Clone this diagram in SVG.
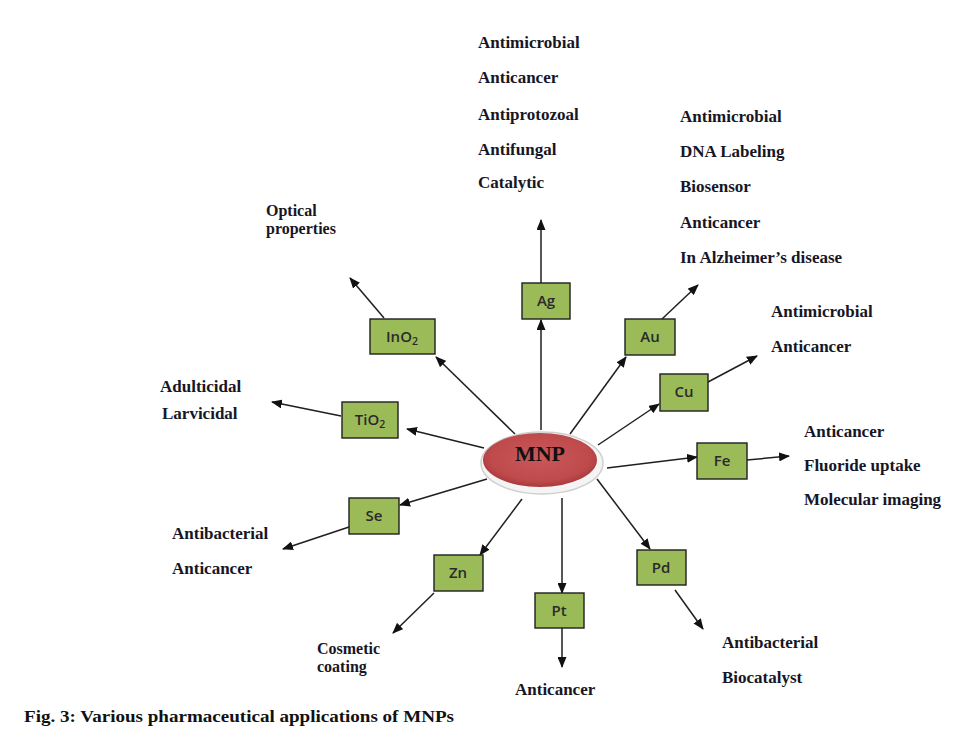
<svg xmlns="http://www.w3.org/2000/svg" width="959" height="741" viewBox="0 0 959 741">
<style>
.t{font-family:"Liberation Serif","Times New Roman",serif;font-weight:bold;font-size:17px;fill:#161626}
.t2{font-family:"Liberation Serif","Times New Roman",serif;font-weight:bold;font-size:16px;fill:#161626}
.box{fill:#9BBB59;stroke:#1f1f1f;stroke-width:1.4}
.bl{font-family:"Open Sans","Liberation Sans",sans-serif;font-weight:600;font-size:15px;fill:#2a2a2a;text-anchor:middle}
.c{stroke:#1f1f1f;stroke-width:1.5;fill:none;marker-end:url(#ah)}
</style>
<defs>
<marker id="ah" markerUnits="userSpaceOnUse" markerWidth="11" markerHeight="9" refX="10" refY="4.5" orient="auto">
<path d="M0,0 L11,4.5 L0,9 z" fill="#111"/>
</marker>
<radialGradient id="rg" cx="50%" cy="45%" r="55%">
<stop offset="0" stop-color="#C9585A"/>
<stop offset="0.8" stop-color="#BF4A4C"/>
<stop offset="1" stop-color="#A83A3C"/>
</radialGradient>
</defs>
<rect width="959" height="741" fill="#ffffff"/>
<g id="connectors">
<line class="c" x1="541" y1="430" x2="541" y2="320"/>
<line class="c" x1="541" y1="283" x2="541" y2="220"/>
<line class="c" x1="570" y1="434" x2="626" y2="357"/>
<line class="c" x1="662" y1="319" x2="698" y2="285"/>
<line class="c" x1="598" y1="445" x2="659" y2="404"/>
<line class="c" x1="708" y1="382" x2="757" y2="356"/>
<line class="c" x1="607" y1="468" x2="697" y2="457"/>
<line class="c" x1="747" y1="460" x2="789" y2="456"/>
<line class="c" x1="597" y1="479" x2="650" y2="549"/>
<line class="c" x1="675" y1="590" x2="703" y2="629"/>
<line class="c" x1="562" y1="498" x2="562" y2="593"/>
<line class="c" x1="562" y1="628" x2="562" y2="667"/>
<line class="c" x1="522" y1="499" x2="480" y2="555"/>
<line class="c" x1="434" y1="593" x2="393" y2="633"/>
<line class="c" x1="487" y1="479" x2="400" y2="505"/>
<line class="c" x1="349" y1="527" x2="283" y2="549"/>
<line class="c" x1="484" y1="448" x2="407" y2="429"/>
<line class="c" x1="341" y1="416" x2="272" y2="402"/>
<line class="c" x1="515" y1="434" x2="436" y2="357"/>
<line class="c" x1="384" y1="318" x2="350" y2="278"/>
</g>
<g id="MNP">
<ellipse cx="542" cy="463" rx="61" ry="31" fill="#f4f4f4" stroke="#cfcfcf" stroke-width="1.5"/>
<ellipse cx="540" cy="460" rx="57" ry="27" fill="url(#rg)"/>
<text x="540" y="461" text-anchor="middle" font-family="Liberation Serif,Times New Roman,serif" font-weight="bold" font-size="22" fill="#111">MNP</text>
</g>
<g id="Ag"><rect class="box" x="522" y="283" width="48" height="36"/><text class="bl" x="546" y="306">Ag</text></g>
<g id="Au"><rect class="box" x="625" y="319" width="50" height="36"/><text class="bl" x="650" y="342">Au</text></g>
<g id="Cu"><rect class="box" x="660" y="374" width="48" height="37"/><text class="bl" x="684" y="397">Cu</text></g>
<g id="Fe"><rect class="box" x="697" y="443" width="50" height="36"/><text class="bl" x="722" y="466">Fe</text></g>
<g id="Pd"><rect class="box" x="637" y="550" width="49" height="35"/><text class="bl" x="661" y="573">Pd</text></g>
<g id="Pt"><rect class="box" x="535" y="593" width="49" height="35"/><text class="bl" x="559" y="616">Pt</text></g>
<g id="Zn"><rect class="box" x="434" y="555" width="49" height="36"/><text class="bl" x="458" y="578">Zn</text></g>
<g id="Se"><rect class="box" x="349" y="498" width="50" height="36"/><text class="bl" x="374" y="521">Se</text></g>
<g id="TiO2"><rect class="box" x="342" y="402" width="56" height="36"/><text class="bl" x="370" y="425">TiO<tspan font-size="10.5" dy="3">2</tspan></text></g>
<g id="InO2"><rect class="box" x="370" y="319" width="65" height="35"/><text class="bl" x="402" y="342">InO<tspan font-size="10.5" dy="3">2</tspan></text></g>
<g id="labels">
<text class="t" x="478" y="48">Antimicrobial</text>
<text class="t" x="478" y="83">Anticancer</text>
<text class="t" x="478" y="120">Antiprotozoal</text>
<text class="t" x="478" y="155">Antifungal</text>
<text class="t" x="478" y="188">Catalytic</text>
<text class="t" x="680" y="122">Antimicrobial</text>
<text class="t" x="680" y="157">DNA Labeling</text>
<text class="t" x="680" y="192">Biosensor</text>
<text class="t" x="680" y="228">Anticancer</text>
<text class="t" x="680" y="263">In Alzheimer’s disease</text>
<text class="t" x="771" y="317">Antimicrobial</text>
<text class="t" x="771" y="352">Anticancer</text>
<text class="t" x="804" y="437">Anticancer</text>
<text class="t" x="804" y="471">Fluoride uptake</text>
<text class="t" x="804" y="505">Molecular imaging</text>
<text class="t" x="722" y="648">Antibacterial</text>
<text class="t" x="722" y="683">Biocatalyst</text>
<text class="t" x="515" y="695">Anticancer</text>
<text class="t2" x="317" y="654">Cosmetic</text>
<text class="t2" x="317" y="672">coating</text>
<text class="t" x="172" y="539">Antibacterial</text>
<text class="t" x="172" y="574">Anticancer</text>
<text class="t" x="160" y="392">Adulticidal</text>
<text class="t" x="162" y="419">Larvicidal</text>
<text class="t2" x="266" y="216">Optical</text>
<text class="t2" x="266" y="234">properties</text>
</g>
<text x="24" y="722" font-family="Liberation Serif,Times New Roman,serif" font-weight="bold" font-size="16.5" fill="#111" textLength="430" lengthAdjust="spacingAndGlyphs">Fig. 3: Various pharmaceutical applications of MNPs</text>
</svg>
